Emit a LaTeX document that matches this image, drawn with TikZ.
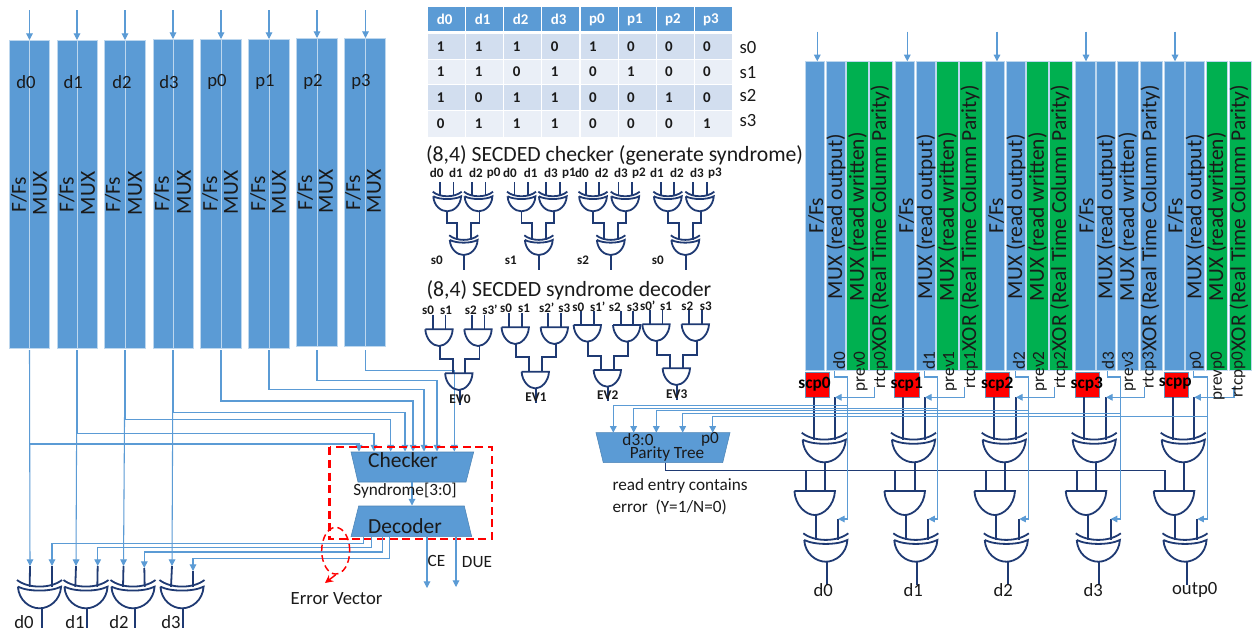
\documentclass[tikz,border=0pt]{standalone}
\usepackage{fontspec}
\setmainfont{Carlito}
\usetikzlibrary{arrows.meta,shapes.geometric}
\definecolor{bluefill}{HTML}{5B9BD5}
\definecolor{bluewire}{HTML}{5B9BD5}
\definecolor{cellline}{HTML}{BDD7EE}
\definecolor{greenfill}{HTML}{00B050}
\definecolor{navygate}{HTML}{1F3A73}
\definecolor{rowa}{HTML}{D2DEEF}
\definecolor{rowb}{HTML}{EAEFF7}
\definecolor{ink}{HTML}{1A1A1A}
\tikzset{
  x=0.75pt,y=-0.75pt,
  wire/.style={draw=bluewire,line width=0.8pt},
  wirea/.style={wire,-{Triangle[length=5pt,width=5pt]}},
  gw/.style={draw=navygate,line width=1.35pt},
  busline/.style={draw=navygate,line width=0.6pt},
  gateline/.style={draw=navygate,line width=1.35pt,fill=none},
  cellbox/.style={fill=bluefill,draw=cellline,line width=0.5pt,inner sep=0pt,outer sep=0pt},
  scpbox/.style={fill=red,draw=bluefill!70!gray,line width=0.6pt,inner sep=0pt,outer sep=0pt},
  tabcell/.style={inner sep=0pt,outer sep=0pt},
  txt/.style={inner sep=0pt,outer sep=0pt,text=ink},
  tbig/.style={txt,font=\fontsize{16.1}{18}\selectfont},
  tmid/.style={txt,font=\fontsize{14}{16}\selectfont},
  tsml/.style={txt,font=\fontsize{12.9}{15}\selectfont},
  tgate/.style={txt,font=\bfseries\fontsize{9.8}{11}\selectfont},
  tev/.style={txt,font=\bfseries\fontsize{10}{12}\selectfont},
  ttab/.style={txt,font=\bfseries\fontsize{11.2}{13}\selectfont},
  tscp/.style={txt,font=\bfseries\fontsize{13}{15}\selectfont,text=black},
  ttitle/.style={txt,font=\fontsize{16.3}{19}\selectfont},
  tpar/.style={txt,font=\fontsize{12.9}{15}\selectfont},
  trapez/.style={fill=bluefill,draw=bluefill!85!black,line width=0.4pt},
  reddash/.style={draw=red,line width=1.7pt,dash pattern=on 6pt off 3.5pt},
  redring/.style={draw=red,line width=1.1pt,dash pattern=on 5pt off 3pt,ellipse,inner sep=0pt},
}
\newcommand{\boxn}[6][cellbox]{%
  \pgfmathsetmacro\bw{(#5-#3)*0.75}\pgfmathsetmacro\bh{(#6-#4)*0.75}%
  \node[#1,minimum width=\bw pt,minimum height=\bh pt] (#2) at ({(#3+#5)/2},{(#4+#6)/2}) {};}
\newcommand{\xorg}[8]{%
  \pgfmathsetmacro\gw{0.75*#4}\pgfmathsetmacro\gh{0.75*#5}%
  \begin{scope}[shift={(#2,#3)},x=\gw pt,y=-\gh pt]
    \draw[gateline] (-.5,0) .. controls (-.25,.31) and (.25,.31) .. (.5,0);
    \draw[gateline] (-.48,.235) .. controls (-.25,.42) and (.25,.42) .. (.48,.235)
       .. controls (.46,.72) and (.22,1) .. (0,1) .. controls (-.22,1) and (-.46,.72) .. (-.48,.235);
  \end{scope}
  \coordinate (#1a) at (#6,{#3+.24*#5});
  \coordinate (#1b) at (#7,{#3+.24*#5});
  \coordinate (#1o) at (#8,{#3+#5});}
\newcommand{\andg}[8]{%
  \pgfmathsetmacro\gw{0.75*#4}\pgfmathsetmacro\gh{0.75*#5}%
  \begin{scope}[shift={(#2,#3)},x=\gw pt,y=-\gh pt]
    \draw[gateline] (-.5,0) -- (.5,0) .. controls (.48,.6) and (.22,1) .. (0,1)
       .. controls (-.22,1) and (-.48,.6) .. (-.5,0);
  \end{scope}
  \coordinate (#1a) at (#6,#3);
  \coordinate (#1b) at (#7,#3);
  \coordinate (#1o) at (#8,{#3+#5});}
\newcommand{\chkgroup}[4]{%
  \xorg{#1p}{#2}{191.7}{29}{19.6}{#2-7}{#2+6.3}{#2}
  \xorg{#1q}{#3}{191.7}{29}{19.6}{#3-6.7}{#3+7}{#3+1}
  \xorg{#1r}{#4}{235.3}{29}{19.7}{#4-6.7}{#4+7.3}{#4+.5}
  \draw[gw] (#1pa) -- ++(0,-14);
  \draw[gw] (#1pb) -- ++(0,-14);
  \draw[gw] (#1qa) -- ++(0,-14);
  \draw[gw] (#1qb) -- ++(0,-14);
  \coordinate (#1ja) at ({#4-6.7},223);
  \coordinate (#1jb) at ({#4+7.3},223);
  \draw[gw] (#1po) |- (#1ja) -- (#1ra);
  \draw[gw] (#1qo) |- (#1jb) -- (#1rb);
  \coordinate (#1e) at ({#4+.5},270);
  \draw[gw] (#1ro) -- (#1e);}
\newcommand{\decgroup}[9]{%
  \andg{#1p}{#2}{#5}{27.4}{16.7}{#2-6}{#2+6.5}{#2+1}
  \andg{#1q}{#3}{#9}{27.4}{16.7}{#3-6}{#3+6.5}{#3+1.5}
  \andg{#1r}{#4}{#6}{27.4}{16.7}{#4-6}{#4+6.5}{#4+1}
  \draw[gw] (#1pa) -- ++(0,-14);
  \draw[gw] (#1pb) -- ++(0,-14);
  \draw[gw] (#1qa) -- ++(0,-14);
  \draw[gw] (#1qb) -- ++(0,-14);
  \coordinate (#1ja) at ({#4-6},#7);
  \coordinate (#1jb) at ({#4+6.5},#7);
  \draw[gw] (#1po) |- (#1ja) -- (#1ra);
  \draw[gw] (#1qo) |- (#1jb) -- (#1rb);
  \coordinate (#1e) at ({#4+1},#8);
  \draw[gw] (#1ro) -- (#1e);}
\begin{document}
\begin{tikzpicture}
\useasboundingbox (0,0) rectangle (1259,632);
\fill[white] (0,0) rectangle (1259,632);
% ---------- left register columns ----------
\foreach \n/\xa/\xs/\xb/\yt/\yb/\fx/\mx/\lab/\lx/\fb/\mb in {
 0/9/29.5/49.5/40/348.7/19/40/d0/26/212/215,
 1/57/77/97/40/348.7/66.7/88/d1/73.3/212/215,
 2/104.5/125/145/40/348.5/113/135/d2/122/212/215,
 3/153/173/193/39/348.5/162/184/d3/169/211/214,
 4/200/221/241/39/348/210/231/p0/217/211/214,
 5/248/269/289/39/348/258/279/p1/265/211/214,
 6/296.5/317/337/38/346.7/305/326/p2/313/210/213,
 7/344.5/365.5/385/38/346.7/353/374/p3/361/210/213}{
  \boxn{La\n}{\xa}{\yt}{\xs}{\yb}
  \boxn{Lb\n}{\xs}{\yt}{\xb}{\yb}
  \coordinate (Lin\n) at (\xs,10);
  \coordinate (Ltop\n) at (\xs,\yt);
  \coordinate (Lbot\n) at (\xs,350);
  \draw[wirea] (Lin\n) -- (Ltop\n);
  \node[tmid,anchor=center] (Llab\n) at (\lx,82) {\lab};
  \node[tbig,rotate=90,anchor=west] (Lff\n) at (\fx,\fb) {F/Fs};
  \node[tbig,rotate=90,anchor=west] (Lmx\n) at (\mx,\mb) {MUX};
}
\foreach \n/\jx/\jy in {0/359/444,1/374/433.7,2/390.7/419.7,3/405/412.3,4/413/401,5/424/389.7,6/437/380.7,7/454.3/370.3}{
  \coordinate (Cj\n) at (\jx,\jy);
  \coordinate (Ci\n) at (\jx,451.5);
  \draw[wirea] (Lbot\n) |- (Cj\n) -- (Ci\n);
}
\xorg{A}{39.5}{580}{45}{28.3}{29.7}{52}{42}
\xorg{B}{86}{580}{45}{28.3}{75.3}{97.3}{87.3}
\xorg{C}{133}{580}{45}{28.3}{123}{144.7}{134.7}
\xorg{D}{182}{580}{45}{28.3}{171}{193}{183}
\foreach \n/\g/\x in {0/A/30,1/B/76,2/C/123.5,3/D/172}{
  \coordinate (\g tip) at (\x,566);
  \draw[wirea] (Lbot\n) -- (\g tip);
}
\draw[gw] (Atip) -- (Aa);
\draw[gw] (Btip) -- (Ba);
\draw[gw] (Ctip) -- (Ca);
\draw[gw] (Dtip) -- (Da);
\coordinate (Ae) at (42,628); \coordinate (Be) at (87.3,628); \coordinate (Ce) at (134.7,628); \coordinate (De) at (183,628);
\draw[gw] (Ao) -- (Ae);
\draw[gw] (Bo) -- (Be);
\draw[gw] (Co) -- (Ce);
\draw[gw] (Do) -- (De);
\node[tmid] (oA) at (24,622) {d0};
\node[tmid] (oB) at (75,622) {d1};
\node[tmid] (oC) at (119,622) {d2};
\node[tmid] (oD) at (171,622) {d3};
\draw[trapez] (351,452) -- (473.7,452) -- (466,482) -- (358,482) -- cycle;
\draw[trapez] (358.7,506) -- (464.3,506) -- (471.7,536.7) -- (351,536.7) -- cycle;
\coordinate (chkb) at (412,482);
\coordinate (dect) at (412,505.5);
\draw[wirea] (chkb) -- (dect);
\node[tbig] (chk) at (403,460) {Checker};
\node[tbig] (dec) at (405,526) {Decoder};
\node[tsml] (syn) at (405,491) {Syndrome[3:0]};
\draw[reddash] (329.5,447.3) rectangle (492,539);
\foreach \n/\sx/\jy/\tx/\ty in {A/363.3/543.3/52/566,B/371.7/547.3/97.7/566,C/382.3/552/144.3/568,D/389.7/558.7/193/571}{
  \coordinate (Ds\n) at (\sx,537);
  \coordinate (Dj\n) at (\tx,\jy);
  \coordinate (Dt\n) at (\tx,\ty);
  \draw[wirea] (Ds\n) |- (Dj\n) -- (Dt\n);
}
\draw[gw] (DtA) -- (Ab);
\draw[gw] (DtB) -- (Bb);
\draw[gw] (DtC) -- (Cb);
\draw[gw] (DtD) -- (Db);
\coordinate (ces) at (427,537); \coordinate (cee) at (427,588);
\coordinate (dus) at (456,537); \coordinate (due) at (456,587);
\draw[wirea] (ces) -- (cee);
\draw[wirea] (dus) -- (due);
\node[tsml] (cet) at (436.5,561) {CE};
\node[tsml] (dut) at (477,562) {DUE};
\node[redring,minimum width=21pt,minimum height=35pt] (ring) at (335.7,550.7) {};
\coordinate (ringtip) at (325,583);
\draw[draw=red,line width=1.1pt,-{Stealth[length=6pt,width=6pt]}] (ring.south) -- (ringtip);
\node[tmid] (evt) at (336.5,599) {Error Vector};
% ---------- table ----------
\foreach \c/\h in {0/d0,1/d1,2/d2,3/d3,4/p0,5/p1,6/p2,7/p3}{
  \pgfmathsetmacro\xl{428.3+38.05*\c}\pgfmathsetmacro\xr{\xl+37}
  \boxn[tabcell,fill=bluefill]{H\c}{\xl}{7}{\xr}{31}
  \node[ttab,text=white,anchor=west] (Ht\c) at (\xl+8.5,19.5) {\h};
}
\foreach \r/\yt/\yb/\fc/\vals in {0/34/59/rowa/{1,1,1,0,1,0,0,0},1/59.8/84.3/rowb/{1,1,0,1,0,1,0,0},2/85.2/110/rowa/{1,0,1,1,0,0,1,0},3/111/136.5/rowb/{0,1,1,1,0,0,0,1}}{
  \foreach \v [count=\ci from 0] in \vals {
    \pgfmathsetmacro\xl{428.3+38.05*\ci}\pgfmathsetmacro\xr{\xl+37}\pgfmathsetmacro\ym{(\yt+\yb)/2}
    \boxn[tabcell,fill=\fc]{T\r x\ci}{\xl}{\yt}{\xr}{\yb}
    \node[ttab,anchor=west] (Tt\r x\ci) at (\xl+8.5,\ym) {\v};
  }
}
\node[tmid] (s0l) at (748,48) {s0};
\node[tmid] (s1l) at (748,72.5) {s1};
\node[tmid] (s2l) at (748,96) {s2};
\node[tmid] (s3l) at (748,121) {s3};
% ---------- checker gates ----------
\node[ttitle,anchor=west] (tit1) at (426,155) {(8,4) SECDED checker (generate syndrome)};
\chkgroup{G}{447.2}{478.5}{463.7}
\chkgroup{H}{521.5}{552.8}{538.8}
\chkgroup{I}{593}{625.2}{610.8}
\chkgroup{J}{667.8}{699.8}{685.3}
\foreach \i/\x/\t in {1/436.7/d0,2/456/d1,3/476/d2,4/493.7/p0,5/510/d0,6/530.7/d1,7/551/d3,8/569/p1,9/582/d0,10/601.7/d2,11/621/d3,12/639/p2,13/657/d1,14/677/d2,15/697/d3,16/715/p3}{
  \node[tgate] (cl\i) at (\x,173) {\t};
}
\node[tgate] (sg1) at (436.7,260.7) {s0};
\node[tgate] (sg2) at (510.7,260.7) {s1};
\node[tgate] (sg3) at (583,260.7) {s2};
\node[tgate] (sg4) at (657.7,260.7) {s0};
% ---------- decoder gates ----------
\node[ttitle,anchor=west] (tit2) at (426.5,290) {(8,4) SECDED syndrome decoder};
\decgroup{P}{439}{478}{458.8}{329.3}{373.3}{359.3}{405}{329.3}
\decgroup{Q}{515.2}{554.3}{535.3}{327.3}{371.7}{357.3}{403}{327.3}
\decgroup{R}{587.3}{626.7}{607.3}{325}{370}{356}{400.7}{325}
\decgroup{S}{656}{695.3}{676.3}{324.3}{368.3}{355.3}{400}{324.3}
\foreach \i/\x/\y/\t in {1/428/310/s0,2/446/310/s1,3/470.7/310/s2,4/490/310/s3’,5/506/308/s0,6/524/308/s1,7/546.7/308/s2’,8/564.3/308/s3,9/578.3/307/s0,10/597.7/307/s1’,11/614.7/307/s2,12/632.7/307/s3,13/647.7/306/s0’,14/666/306/s1,15/687.3/306/s2,16/705.7/306/s3}{
  \node[tgate] (dl\i) at (\x,\y) {\t};
}
\node[tev] (ev0) at (460,399) {EV0};
\node[tev] (ev1) at (536,396.7) {EV1};
\node[tev] (ev2) at (607.7,395) {EV2};
\node[tev] (ev3) at (676.7,394) {EV3};
% ---------- parity tree ----------
\draw[trapez] (596,432.7) -- (730,432.7) -- (722.7,462.7) -- (603.3,462.7) -- cycle;
\node[tpar] (ptd) at (638,439.5) {d3:0};
\node[tpar] (ptp) at (710,439.5) {p0};
\node[tpar] (ptn) at (667,454) {Parity Tree};
\node[tsml,anchor=west] (re1) at (612.5,486) {read entry contains};
\node[tsml,anchor=west] (re2) at (612.5,507) {error\ \ (Y=1/N=0)};
\coordinate (ptout) at (665.3,462.7);
\coordinate (busend) at (1165.3,470);
\draw[busline] (ptout) |- (busend);
% ---------- right columns ----------
\foreach \g/\Lx/\lab/\pv/\rt/\gc/\sa/\sbx/\st/\sn/\tpx/\xc/\xa/\xb/\xo/\ac/\aax/\ao/\lc/\lo/\dx/\vx/\tp/\rx/\hy/\px/\ol/\oet/\lbx/\pvx/\rtx in {
 0/805/d0/prev0/rtcp0/greenfill/805/829.3/814.5/scp0/817.3/824.2/814/835/824.7/814.7/805.7/815.7/825.8/827.3/834.7/847.3/838/874.3/405.5/613.3/823.3/d0/839.3/860.7/881,
 1/895/d1/prev1/rtcp1/greenfill/894.7/919.3/906.7/scp1/907.3/913.5/903.3/925/915/904.7/895/906/915.8/916.7/924.3/937.7/928.3/964.3/408.3/633.7/913.3/d1/929/950/971,
 2/985/d2/prev2/rtcp2/greenfill/985.3/1009.3/997.3/scp2/997/1004.2/994/1016/1005/994.7/986/996/1006.3/1008/1015.3/1028.3/1019.3/1054.3/410.8/656.3/1003.3/d2/1019/1040/1061,
 3/1075.3/d3/prev3/rtcp3/bluefill/1075.3/1099.3/1086.7/scp3/1086/1094.2/1084/1106/1095.7/1086/1077/1088/1098.3/1099.3/1107.3/1120.7/1110.7/1144.3/413.7/682.7/1093.3/d3/1108/1129/1149.3,
 4/1164.3/p0/prevp0/rtcpp0/greenfill/1164.7/1188.7/1175.3/scpp/1175/1183.2/1173.3/1194.3/1184/1174/1165.3/1175.3/1185/1186.7/1193.3/1207.3/1197.3/1234/416.5/712.7/1194.7/outp0/1196.7/1217.7/1238.3}{
  \pgfmathsetmacro\ca{\Lx+19.7}\pgfmathsetmacro\cb{\Lx+21}\pgfmathsetmacro\cc{\Lx+40}
  \pgfmathsetmacro\cd{\Lx+41.6}\pgfmathsetmacro\ce{\Lx+63}\pgfmathsetmacro\cf{\Lx+64.8}\pgfmathsetmacro\cg{\Lx+87}
  \boxn{Ra\g}{\Lx}{61.3}{\ca}{370}
  \boxn{Rb\g}{\cb}{61.3}{\cc}{370}
  \boxn[cellbox,fill=\gc]{Rc\g}{\cd}{61.3}{\ce}{370}
  \boxn[cellbox,fill=\gc]{Rd\g}{\cf}{61.3}{\cg}{370}
  \coordinate (Rin\g) at (\tpx,31.5);
  \coordinate (Rtop\g) at (\tpx,61.3);
  \draw[wirea] (Rin\g) -- (Rtop\g);
  \boxn[scpbox]{Sc\g}{\sa}{372.3}{\sbx}{397.3}
  \xorg{\g X}{\xc}{432.7}{45}{29.6}{\xa}{\xb}{\xo}
  \andg{\g Y}{\ac}{491}{40.6}{24}{\aax}{\xo}{\ao}
  \xorg{\g Z}{\lc}{533.3}{45}{28.4}{\ao}{\tp}{\lo}
  \coordinate (Sb\g) at (\xa,397.3);
  \draw[gw] (Sb\g) -- (\g Xa);
  \coordinate (Rt\g) at (\xb,397.3);
  \draw[gw] (Rt\g) -- (\g Xb);
  \draw[gw] (\g Xo) -- (\g Yb);
  \draw[gw] (\g Yo) -- (\g Za);
  \coordinate (Zt\g) at (\tp,519);
  \draw[gw] (Zt\g) -- (\g Zb);
  \coordinate (Ye\g) at (\lo,585);
  \draw[gw] (\g Zo) -- (Ye\g);
  \coordinate (By\g) at (\aax,470);
  \draw[gw] (By\g) -- (\g Ya);
  \coordinate (Do\g) at (\dx,371);
  \coordinate (Dv\g) at (\vx,377);
  \coordinate (Dw\g) at (\vx,519);
  \draw[wirea] (Do\g) |- (Dv\g) -- (Dw\g) -- (Zt\g);
  \coordinate (Dh\g) at (\vx,\hy);
  \coordinate (Pi\g) at (\px,432.7);
  \draw[wirea] (Dh\g) -| (Pi\g);
  \coordinate (Rs\g) at (\rx,387);
  \draw[wirea] (Rs\g) |- (Rt\g);
  \pgfmathsetmacro\tf{\Lx+11}\pgfmathsetmacro\tm{\Lx+31}\pgfmathsetmacro\tw{\Lx+52.5}\pgfmathsetmacro\tr{\Lx+75}
  \node[tbig,rotate=90,anchor=west] (Tf\g) at (\tf,233) {F/Fs};
  \node[tbig,rotate=90,anchor=west] (Tm\g) at (\tm,299) {MUX (read output)};
  \node[tbig,rotate=90,anchor=west] (Tw\g) at (\tw,301) {MUX (read written)};
  \node[tbig,rotate=90,anchor=west] (Tx\g) at (\tr,351.7) {XOR (Real Time Column Parity)};
  \node[tsml,rotate=90,anchor=east] (Td\g) at (\lbx,351.5) {\lab};
  \node[tsml,rotate=90,anchor=east] (Tp\g) at (\pvx,351.5) {\pv};
  \node[tsml,rotate=90,anchor=east] (Tq\g) at (\rtx,351.5) {\rt};
  \node[tscp] (Ts\g) at (\st,384) {\sn};
  \node[tmid] (Oo\g) at (\ol,590) {\oet};
}
\end{tikzpicture}
\end{document}
